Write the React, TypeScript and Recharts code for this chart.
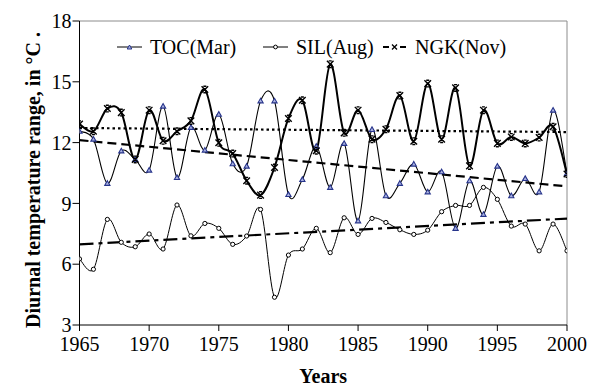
import { LineChart, Line, XAxis, YAxis, ReferenceLine, Label } from "recharts";

const years = [
  1965, 1966, 1967, 1968, 1969, 1970, 1971, 1972, 1973, 1974, 1975, 1976,
  1977, 1978, 1979, 1980, 1981, 1982, 1983, 1984, 1985, 1986, 1987, 1988,
  1989, 1990, 1991, 1992, 1993, 1994, 1995, 1996, 1997, 1998, 1999, 2000,
];

const tocMar = [
  12.56, 12.17, 9.99, 11.59, 11.17, 10.64, 13.8, 10.28, 12.75, 11.63, 13.4, 10.96,
  10.84, 14.06, 14.06, 9.44, 10.18, 11.82, 9.79, 11.96, 8.14, 12.65, 9.38, 9.99,
  10.94, 9.57, 10.56, 7.77, 10.12, 8.46, 10.84, 9.38, 10.23, 9.57, 13.6, 10.48,
];

const silAug = [
  6.26, 5.75, 8.21, 7.08, 6.86, 7.49, 6.75, 8.92, 7.4, 8.01, 7.77, 6.98,
  7.39, 8.7, 4.37, 6.45, 6.75, 7.77, 6.57, 8.29, 7.47, 8.26, 8.06, 7.7,
  7.47, 7.68, 8.59, 8.9, 8.9, 9.79, 9.2, 7.88, 7.98, 6.66, 7.98, 6.66,
];

const ngkNov = [
  12.91, 12.56, 13.68, 13.48, 11.17, 13.6, 12.09, 12.56, 13.07, 14.62, 11.99, 11.46,
  10.12, 9.41, 10.77, 13.19, 14.09, 11.6, 15.87, 12.48, 13.6, 12.17, 12.66, 14.32,
  12.07, 14.91, 12.17, 14.7, 10.85, 13.6, 11.96, 12.28, 11.96, 12.25, 12.78, 10.45,
];

// trend line end points
const trendYears = [1965, 2000];
const ngkTrend = [12.72, 12.52];
const tocTrend = [12.12, 9.84];
const silTrend = [6.98, 8.25];

const xTicks = [1965, 1970, 1975, 1980, 1985, 1990, 1995, 2000];
const yTicks = [3, 6, 9, 12, 15, 18];

const data = years.map((year, i) => ({
  year,
  toc: tocMar[i],
  sil: silAug[i],
  ngk: ngkNov[i],
}));

const trendData = trendYears.map((year, i) => ({
  year,
  ngkT: ngkTrend[i],
  tocT: tocTrend[i],
  silT: silTrend[i],
}));

const FONT = "'Liberation Serif', 'Times New Roman', serif";
const TRI_STROKE = "#27348b";

// Excel-style smoothed line (Catmull-Rom through the points)
function excelSmooth(context: any) {
  let pts: number[][] = [];
  return {
    areaStart() {},
    areaEnd() {},
    lineStart() {
      pts = [];
    },
    point(x: number, y: number) {
      pts.push([+x, +y]);
    },
    lineEnd() {
      if (!pts.length) return;
      context.moveTo(pts[0][0], pts[0][1]);
      for (let i = 0; i < pts.length - 1; i++) {
        const p0 = pts[i - 1] || pts[i];
        const p1 = pts[i];
        const p2 = pts[i + 1];
        const p3 = pts[i + 2] || pts[i + 1];
        context.bezierCurveTo(
          p1[0] + (p2[0] - p0[0]) / 6,
          p1[1] + (p2[1] - p0[1]) / 6,
          p2[0] - (p3[0] - p1[0]) / 6,
          p2[1] - (p3[1] - p1[1]) / 6,
          p2[0],
          p2[1]
        );
      }
    },
  };
}

function TriangleDot(props: any) {
  const { cx, cy, index } = props;
  if (cx == null || cy == null) return <g key={`t-${index}`} />;
  return (
    <path
      key={`t-${index}`}
      d={`M${cx},${cy - 2.6} L${cx + 2.6},${cy + 2} L${cx - 2.6},${cy + 2} Z`}
      fill="#aab2e0"
      stroke={TRI_STROKE}
      strokeWidth={1.1}
    />
  );
}

function CircleDot(props: any) {
  const { cx, cy, index } = props;
  if (cx == null || cy == null) return <g key={`c-${index}`} />;
  return (
    <circle
      key={`c-${index}`}
      cx={cx}
      cy={cy}
      r={2.1}
      fill="#fff"
      stroke="#000"
      strokeWidth={1}
    />
  );
}

function StarDot(props: any) {
  const { cx, cy, index } = props;
  if (cx == null || cy == null) return <g key={`s-${index}`} />;
  const s = 3.3;
  return (
    <path
      key={`s-${index}`}
      d={`M${cx - s},${cy - s} L${cx + s},${cy + s} M${cx - s},${cy + s} L${cx + s},${cy - s} M${cx - 1.5},${cy - s} L${cx + 1.5},${cy - s} M${cx - 1.5},${cy + s} L${cx + 1.5},${cy + s}`}
      stroke="#000"
      strokeWidth={1.4}
      fill="none"
    />
  );
}

function LegendIcon({ kind }: { kind: "toc" | "sil" | "ngk" }) {
  return (
    <svg width={25} height={10} style={{ display: "block" }}>
      {kind === "ngk" ? (
        <>
          <line x1={1} y1={5} x2={7} y2={5} stroke="#000" strokeWidth={2} />
          <line x1={18} y1={5} x2={24} y2={5} stroke="#000" strokeWidth={2} />
          <path d="M10,2.5 L15,7.5 M10,7.5 L15,2.5" stroke="#000" strokeWidth={1.3} />
        </>
      ) : (
        <line x1={0} y1={5} x2={25} y2={5} stroke="#000" strokeWidth={1} />
      )}
      {kind === "toc" && (
        <path d="M12.5,3 L14.8,7 L10.2,7 Z" fill="#aab2e0" stroke={TRI_STROKE} strokeWidth={1} />
      )}
      {kind === "sil" && <circle cx={12.5} cy={5} r={1.9} fill="#fff" stroke="#000" />}
    </svg>
  );
}

const legendItems = [
  { kind: "toc" as const, label: "TOC(Mar)", left: 117 },
  { kind: "sil" as const, label: "SIL(Aug)", left: 263 },
  { kind: "ngk" as const, label: "NGK(Nov)", left: 382 },
];

export default function App() {
  return (
    <div
      style={{
        position: "absolute",
        left: 0,
        top: 0,
        width: 589,
        height: 386,
        background: "#fff",
        fontFamily: FONT,
      }}
    >
      <LineChart
        width={589}
        height={386}
        data={data}
        margin={{ top: 21, right: 22, bottom: 0, left: 0 }}
      >
        <XAxis
          dataKey="year"
          type="number"
          domain={[1965, 2000]}
          ticks={xTicks}
          allowDataOverflow
          height={61}
          stroke="#000"
          tickSize={6}
          tickMargin={6}
          tick={{ fill: "#000", fontSize: 20, fontFamily: FONT }}
        >
          <Label
            value="Years"
            position="insideBottom"
            offset={3}
            style={{ fill: "#000", fontSize: 20, fontWeight: "bold", fontFamily: FONT }}
          />
        </XAxis>
        <YAxis
          type="number"
          domain={[3, 18]}
          ticks={yTicks}
          width={79.5}
          stroke="#000"
          tickSize={7}
          tickMargin={1}
          tick={{ fill: "#000", fontSize: 20, fontFamily: FONT }}
        >
          <Label
            content={() => (
              <text
                x={33}
                y={180}
                transform="rotate(-90 33 180)"
                textAnchor="middle"
                dominantBaseline="central"
                fill="#000"
                fontSize={20}
                fontWeight="bold"
                fontFamily={FONT}
              >
                Diurnal temperature range, in °C .
              </text>
            )}
          />
        </YAxis>
        <ReferenceLine y={18} stroke="#8c8c8c" strokeWidth={1} />
        <ReferenceLine x={2000} stroke="#8c8c8c" strokeWidth={1} />

        <Line
          data={trendData}
          dataKey="ngkT"
          type="linear"
          stroke="#000"
          strokeWidth={2.2}
          strokeDasharray="2.5 3"
          dot={false}
          activeDot={false}
          isAnimationActive={false}
        />
        <Line
          data={trendData}
          dataKey="tocT"
          type="linear"
          stroke="#000"
          strokeWidth={2.2}
          strokeDasharray="9 5"
          dot={false}
          activeDot={false}
          isAnimationActive={false}
        />
        <Line
          data={trendData}
          dataKey="silT"
          type="linear"
          stroke="#000"
          strokeWidth={2.2}
          strokeDasharray="14 5 4 5"
          dot={false}
          activeDot={false}
          isAnimationActive={false}
        />

        <Line
          dataKey="sil"
          type={excelSmooth as any}
          stroke="#000"
          strokeWidth={1}
          dot={(p: any) => <CircleDot {...p} />}
          activeDot={false}
          isAnimationActive={false}
        />
        <Line
          dataKey="toc"
          type={excelSmooth as any}
          stroke="#000"
          strokeWidth={1.1}
          dot={(p: any) => <TriangleDot {...p} />}
          activeDot={false}
          isAnimationActive={false}
        />
        <Line
          dataKey="ngk"
          type={excelSmooth as any}
          stroke="#000"
          strokeWidth={2}
          dot={(p: any) => <StarDot {...p} />}
          activeDot={false}
          isAnimationActive={false}
        />
      </LineChart>

      {legendItems.map((it) => (
        <div
          key={it.kind}
          style={{
            position: "absolute",
            left: it.left,
            top: 35,
            height: 24,
            display: "flex",
            alignItems: "center",
            gap: 8,
            fontSize: 20,
            lineHeight: "24px",
            color: "#000",
            whiteSpace: "nowrap",
          }}
        >
          <LegendIcon kind={it.kind} />
          <span>{it.label}</span>
        </div>
      ))}
    </div>
  );
}
